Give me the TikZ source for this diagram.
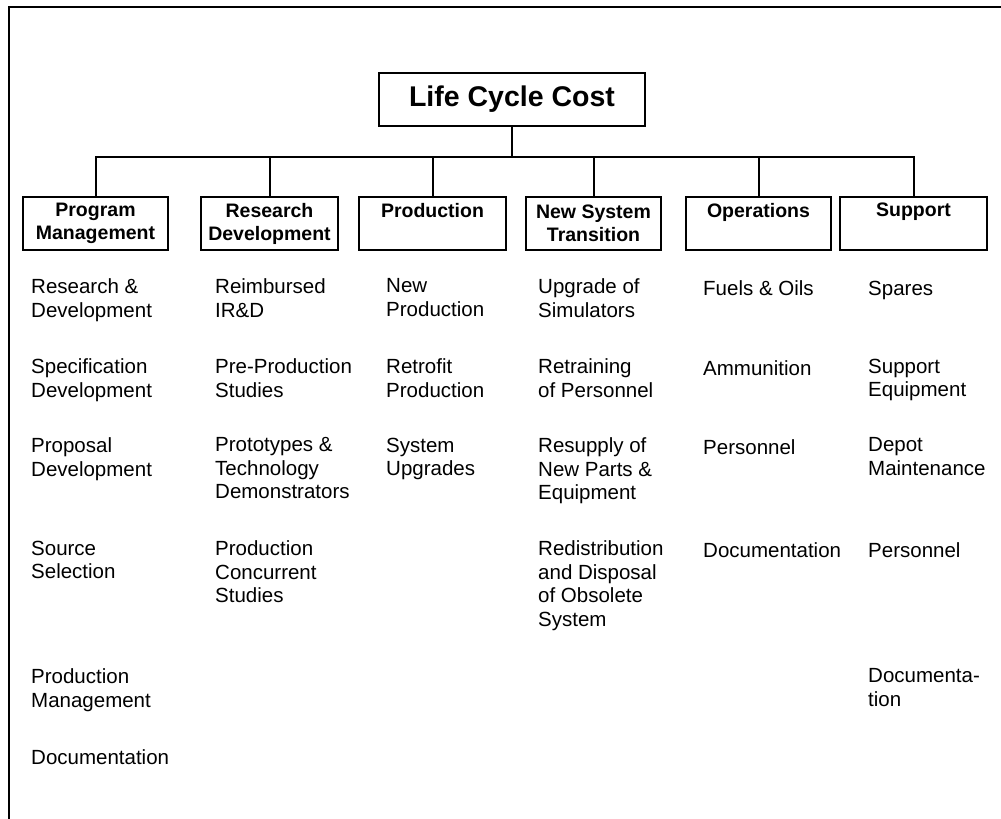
\documentclass[tikz,border=0pt]{standalone}
\usepackage{fontspec}
\setmainfont{Liberation Sans}
\usepackage{tikz}

\tikzset{
    item/.style={anchor=north west, yshift=16.45pt, align=left, inner sep=0pt,
        font=\fontsize{20.5pt}{23.5pt}\selectfont, execute at begin node=\strut},
    head/.style={draw, line width=2pt, anchor=north west, align=center,
        inner sep=0pt, minimum height=53pt,
        font=\fontsize{19.5pt}{23pt}\selectfont\bfseries},
    tree/.style={line width=2pt}
}

\begin{document}
\begin{tikzpicture}[x=1pt, y=-1pt]
    \useasboundingbox (0,0) rectangle (1001,819);
    % page frame (top and left only)
    \draw [line width=2.8pt] (1001,7) -- (9,7) -- (9,819);

    % top of the tree
    \node [head, minimum width=266pt, font=\fontsize{28.5pt}{30pt}\selectfont\bfseries] (lcc) at (378,72) {Life Cycle Cost};

    \node [head, minimum width=145pt] (pm) at (22,196)  {Program\\Management};
    \node [head, minimum width=137pt] (rd) at (200,196) {Research\\Development};
    \node [head, minimum width=147pt] (pr) at (358,196) {Production\\\vphantom{g}};
    \node [head, minimum width=135pt] (ns) at (525,196) {New System\\Transition};
    \node [head, minimum width=145pt] (op) at (685,196) {Operations\\\vphantom{g}};
    \node [head, minimum width=147pt] (su) at (839,196) {Support\\\vphantom{g}};

    \coordinate (bus) at (0,157);
    \draw [tree] (lcc.south) -- (lcc.south |- bus);
    \draw [tree] (pm.north) |- (su.north |- bus) -- (su.north);
    \draw [tree] (rd.north) -- (rd.north |- bus);
    \draw [tree] (pr.north) -- (pr.north |- bus);
    \draw [tree] (ns.north) -- (ns.north |- bus);
    \draw [tree] (op.north) -- (op.north |- bus);

    % program management
    \node [item] (pm1) at (31,295) {Research \&\\Development};
    \node [item] (pm2) at (31,375) {Specification\\Development};
    \node [item] (pm3) at (31,454) {Proposal\\Development};
    \node [item] (pm4) at (31,557) {Source\\Selection};
    \node [item] (pm5) at (31,685) {Production\\Management};
    \node [item] (pm6) at (31,764) {Documentation};

    % research development
    \node [item] (rd1) at (215,295) {Reimbursed\\IR\&D};
    \node [item] (rd2) at (215,375) {Pre-Production\\Studies};
    \node [item] (rd3) at (215,454) {Prototypes \&\\Technology\\Demonstrators};
    \node [item] (rd4) at (215,557) {Production\\Concurrent\\Studies};

    % production
    \node [item] (pr1) at (386,295) {New\\Production};
    \node [item] (pr2) at (386,375) {Retrofit\\Production};
    \node [item] (pr3) at (386,454) {System\\Upgrades};

    % new system transition
    \node [item] (ns1) at (538,295) {Upgrade of\\Simulators};
    \node [item] (ns2) at (538,375) {Retraining\\of Personnel};
    \node [item] (ns3) at (538,454) {Resupply of\\New Parts \&\\Equipment};
    \node [item] (ns4) at (538,557) {Redistribution\\and Disposal\\of Obsolete\\System};

    % operations
    \node [item] (op1) at (703,295) {Fuels \& Oils};
    \node [item] (op2) at (703,375) {Ammunition};
    \node [item] (op3) at (703,454) {Personnel};
    \node [item] (op4) at (703,557) {Documentation};

    % support
    \node [item] (su1) at (868,295) {Spares};
    \node [item] (su2) at (868,375) {Support\\Equipment};
    \node [item] (su3) at (868,454) {Depot\\Maintenance};
    \node [item] (su4) at (868,557) {Personnel};
    \node [item] (su5) at (868,685) {Documenta-\\tion};
\end{tikzpicture}
\end{document}
